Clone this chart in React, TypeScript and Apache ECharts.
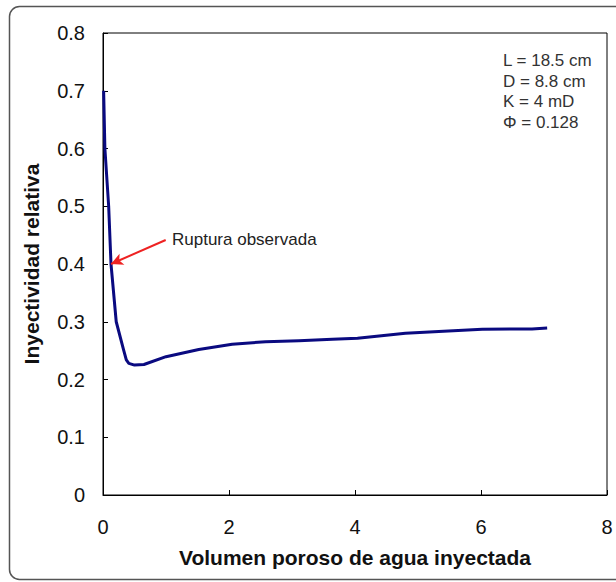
import React, { useEffect, useRef } from "react";
import * as echarts from "echarts";

const xValues = [0.01, 0.03, 0.09, 0.127, 0.21, 0.33, 0.37, 0.41, 0.5, 0.65, 1.0, 1.52, 2.05, 2.58, 3.11, 3.64, 4.04, 4.8, 5.33, 6.02, 6.81, 7.05];
const yValues = [0.70, 0.60, 0.50, 0.40, 0.30, 0.25, 0.234, 0.228, 0.225, 0.226, 0.2395, 0.252, 0.261, 0.2655, 0.267, 0.2695, 0.2713, 0.280, 0.283, 0.287, 0.2875, 0.289];
const arrowFrom = [0.995, 0.4416];
const arrowTo = [0.127, 0.40];
const infoLines = ["L = 18.5 cm", "D = 8.8 cm", "K = 4 mD", "\u03A6 = 0.128"];
const annotationText = "Ruptura observada";
const xTitle = "Volumen poroso de agua inyectada";
const yTitle = "Inyectividad relativa";

const FONT = "'Liberation Sans', Arial, sans-serif";

export default function App() {
  const ref = useRef<HTMLDivElement>(null);
  useEffect(() => {
    if (!ref.current) return;
    const chart = echarts.init(ref.current, null, { renderer: "svg" });
    const data = xValues.map((x, i) => [x, yValues[i]]);
    chart.setOption({
      animation: false,
      backgroundColor: "#fff",
      textStyle: { fontFamily: FONT },
      grid: { left: 103, top: 33, right: 9, bottom: 87, show: true, borderColor: "#000", borderWidth: 1 },
      xAxis: {
        type: "value",
        min: 0,
        max: 8,
        interval: 2,
        name: xTitle,
        nameLocation: "middle",
        nameGap: 52,
        nameTextStyle: { fontFamily: FONT, fontSize: 21, fontWeight: "bold", color: "#111" },
        axisLine: { show: true, lineStyle: { color: "#000", width: 1 } },
        axisTick: { show: true, inside: true, length: 5, lineStyle: { color: "#000" } },
        axisLabel: { fontFamily: FONT, fontSize: 20, color: "#111", margin: 22 },
        splitLine: { show: false },
      },
      yAxis: {
        type: "value",
        min: 0,
        max: 0.8,
        interval: 0.1,
        name: yTitle,
        nameLocation: "middle",
        nameGap: 61,
        nameTextStyle: { fontFamily: FONT, fontSize: 21, fontWeight: "bold", color: "#111" },
        axisLine: { show: true, lineStyle: { color: "#000", width: 1 } },
        axisTick: { show: true, inside: true, length: 5, lineStyle: { color: "#000" } },
        axisLabel: { fontFamily: FONT, fontSize: 20, color: "#111", margin: 18, formatter: (v: number) => String(Math.round(v * 10) / 10) },
        splitLine: { show: false },
      },
      series: [
        {
          type: "line",
          data,
          smooth: false,
          showSymbol: false,
          lineStyle: { color: "#0a0a80", width: 3, join: "round" },
          markLine: {
            silent: true,
            symbol: ["none", "arrow"],
            symbolSize: [9, 12],
            label: { show: false },
            lineStyle: { color: "#ee2222", width: 2, type: "solid" },
            itemStyle: { color: "#ee2222" },
            data: [[{ coord: arrowFrom }, { coord: arrowTo }]],
          },
        },
      ],
      graphic: [
        {
          type: "rect",
          silent: true,
          z: -1,
          shape: { x: 9.5, y: 6.5, width: 640, height: 573, r: 10 },
          style: { fill: "none", stroke: "#555", lineWidth: 1.5 },
        },
        {
          type: "text",
          left: 172,
          top: 231,
          style: { text: annotationText, font: `17px ${FONT}`, fill: "#222" },
        },
        {
          type: "text",
          left: 503,
          top: 50,
          style: { text: infoLines.join("\n"), font: `17px ${FONT}`, lineHeight: 20.7, fill: "#333" },
        },
      ],
    });
    return () => chart.dispose();
  }, []);
  return <div ref={ref} style={{ position: "fixed", left: 0, top: 0, width: 616, height: 582 }} />;
}
